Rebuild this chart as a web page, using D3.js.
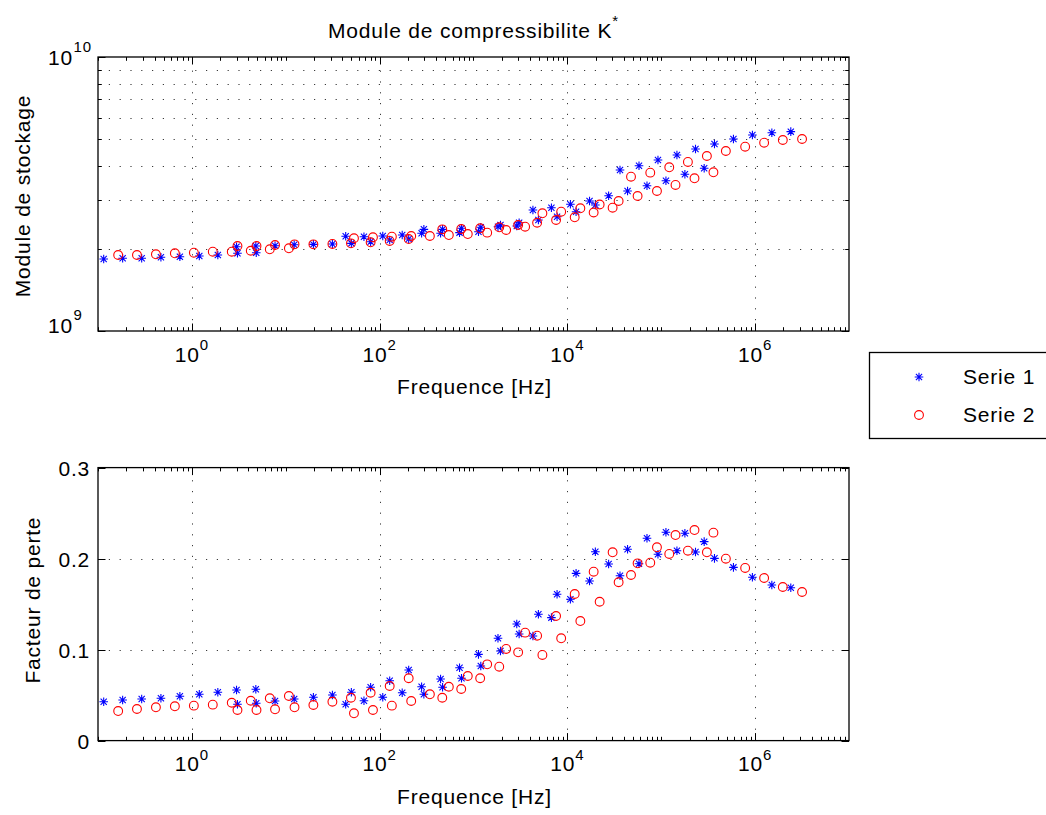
<!DOCTYPE html>
<html>
<head>
<meta charset="utf-8">
<script src="https://cdn.jsdelivr.net/npm/d3@7"></script>
<style>
  body { margin: 0; background: #fff; }
  svg text { font-family: "Liberation Sans", Arial, Helvetica, sans-serif; fill: #000; }
</style>
</head>
<body>
<div id="chart"></div>
<script>
// Serie 1 (blue stars)
const freq1 = [0.115, 0.183, 0.292, 0.468, 0.745, 1.20, 1.89, 2.99, 3.06, 4.80, 4.85, 7.69, 12.3, 19.7, 31.4,
  43.5, 50.0, 68.1, 80.2, 108, 128, 174, 204, 280, 296, 446, 468, 710, 745, 1130, 1196, 1823, 1938, 2890, 3063,
  4295, 4912, 6761, 7766, 10770, 12380, 17220, 19860, 27500, 36360, 43760, 57940, 70470, 92260, 112200, 146900,
  178600, 231700, 286600, 369000, 587500, 935400, 1507000, 2399000];
const storage1 = [1.832, 1.842, 1.842, 1.858, 1.867, 1.878, 1.894, 2.030, 1.921, 2.043, 1.930, 2.048, 2.065, 2.071,
  2.078, 2.216, 2.089, 2.209, 2.118, 2.222, 2.148, 2.240, 2.166, 2.274, 2.350, 2.274, 2.350, 2.285, 2.370, 2.303,
  2.390, 2.402, 2.437, 2.416, 2.484, 2.765, 2.542, 2.818, 2.613, 2.900, 2.725, 2.982, 2.884, 3.118, 3.870, 3.243,
  4.011, 3.390, 4.208, 3.536, 4.389, 3.732, 4.616, 3.924, 4.814, 5.020, 5.191, 5.294, 5.340].map(v => v * 1e9);
const loss1 = [0.0427, 0.0446, 0.0457, 0.0465, 0.0487, 0.0509, 0.0531, 0.0556, 0.0399, 0.0564, 0.0410, 0.0435,
  0.0457, 0.0476, 0.0501, 0.0399, 0.0531, 0.0438, 0.0586, 0.0476, 0.0658, 0.0526, 0.0776, 0.0592, 0.0509, 0.0677,
  0.0586, 0.0801, 0.0685, 0.0948, 0.0820, 0.1124, 0.0985, 0.1281, 0.1171, 0.1149, 0.1388, 0.1351, 0.1608, 0.1553,
  0.1838, 0.1754, 0.2076, 0.1941, 0.1812, 0.2102, 0.1944, 0.2223, 0.2047, 0.2289, 0.2087, 0.2278, 0.2073, 0.2186,
  0.2003, 0.1904, 0.1795, 0.1710, 0.1680];

// Serie 2 (red circles)
const freq2 = [0.164, 0.260, 0.414, 0.659, 1.05, 1.67, 2.66, 3.06, 4.24, 4.88, 6.76, 7.69, 10.8, 12.4, 19.7, 31.4,
  49.5, 53.3, 80.2, 84.9, 128, 135, 204, 217, 343, 465, 546, 740, 869, 1178, 1399, 1880, 2228, 2990, 3548, 4760,
  5420, 7580, 8590, 11970, 13750, 19050, 22070, 30340, 35150, 47630, 55980, 76380, 90020, 121700, 141900, 192300,
  226000, 306300, 359700, 487800, 783000, 1247000, 1972000, 3162000];
const storage2 = [1.894, 1.894, 1.905, 1.921, 1.931, 1.947, 1.947, 2.043, 1.963, 2.043, 1.987, 2.060, 2.004, 2.071,
  2.071, 2.078, 2.089, 2.179, 2.107, 2.198, 2.131, 2.209, 2.166, 2.222, 2.222, 2.350, 2.240, 2.356, 2.259, 2.370,
  2.285, 2.390, 2.337, 2.437, 2.402, 2.484, 2.689, 2.542, 2.725, 2.600, 2.804, 2.707, 2.895, 2.818, 2.982, 3.657,
  3.110, 3.783, 3.243, 3.958, 3.412, 4.139, 3.609, 4.352, 3.795, 4.539, 4.705, 4.866, 4.978, 5.020].map(v => v * 1e9);
const loss2 = [0.0325, 0.0347, 0.0366, 0.0377, 0.0384, 0.0395, 0.0416, 0.0336, 0.0438, 0.0336, 0.0465, 0.0344,
  0.0490, 0.0366, 0.0391, 0.0427, 0.0471, 0.0300, 0.0526, 0.0336, 0.0600, 0.0384, 0.0685, 0.0435, 0.0509, 0.0471,
  0.0592, 0.0567, 0.0710, 0.0685, 0.0838, 0.0812, 0.1007, 0.0970, 0.1186, 0.1153, 0.0941, 0.1369, 0.1124, 0.1611,
  0.1314, 0.1856, 0.1526, 0.2069, 0.1740, 0.1820, 0.1948, 0.1955, 0.2124, 0.2051, 0.2259, 0.2087, 0.2314, 0.2069,
  0.2285, 0.1999, 0.1897, 0.1787, 0.1688, 0.1633];

// ticks
const xTickExp = [0, 2, 4, 6];
const yTopTickExp = [9, 10];
const yBottomTicks = [0, 0.1, 0.2, 0.3];
const seriesNames = ["Serie 1", "Serie 2"];

const width = 1046, height = 815;
const left = 98, right = 849;

const svg = d3.select("#chart").append("svg")
  .attr("width", width)
  .attr("height", height);

const x = d3.scaleLog().domain([0.1, 1e7]).range([left, right]);
const yTop = d3.scaleLog().domain([1e9, 1e10]).range([331, 57]);
const yBot = d3.scaleLinear().domain([0, 0.3]).range([740.6, 467.6]);

const FS = 21, SUP = 15, LS = "0.8px";

// minor positions for the log x axis
const xMinor = [];
for (let k = -1; k <= 6; k++) {
  for (let m = 1; m <= 9; m++) {
    const v = m * Math.pow(10, k);
    if (v > 1e7) continue;
    if (m === 1 && xTickExp.includes(k)) continue;
    xMinor.push(v);
  }
}
const xMajor = xTickExp.map(e => Math.pow(10, e));

function starPath(r) {
  const d = r * 0.72;
  return `M${-r},0H${r}M0,${-r}V${r}M${-d},${-d}L${d},${d}M${-d},${d}L${d},${-d}`;
}

function drawPanel(y, yMajor, yMinor, y0, y1) {
  const g = svg.append("g");
  const dot = g.append("g")
    .attr("stroke", "#3a3a3a")
    .attr("stroke-width", 1)
    .attr("stroke-dasharray", "1.2,9.6");
  // grid
  dot.selectAll(".vg").data(xMajor).join("line")
    .attr("x1", d => Math.round(x(d)) + 0.5).attr("x2", d => Math.round(x(d)) + 0.5)
    .attr("y1", y0).attr("y2", y1);
  dot.selectAll(".hg").data(yMajor.concat(yMinor).filter(v => y(v) > y1 + 1 && y(v) < y0 - 1)).join("line")
    .attr("x1", left).attr("x2", right)
    .attr("y1", d => Math.round(y(d)) + 0.5).attr("y2", d => Math.round(y(d)) + 0.5);

  const ticks = g.append("g").attr("stroke", "#000").attr("stroke-width", 1);
  const tk = (vals, len) => {
    vals.forEach(v => {
      const px = Math.round(x(v)) + 0.5;
      ticks.append("line").attr("x1", px).attr("x2", px).attr("y1", y0).attr("y2", y0 - len);
      ticks.append("line").attr("x1", px).attr("x2", px).attr("y1", y1).attr("y2", y1 + len);
    });
  };
  tk(xMajor, 7.5);
  tk(xMinor, 3.8);
  const tky = (vals, len) => {
    vals.forEach(v => {
      const py = Math.round(y(v)) + 0.5;
      ticks.append("line").attr("x1", left).attr("x2", left + len).attr("y1", py).attr("y2", py);
      ticks.append("line").attr("x1", right).attr("x2", right - len).attr("y1", py).attr("y2", py);
    });
  };
  tky(yMajor, 7.5);
  tky(yMinor, 3.8);

  // box
  g.append("rect")
    .attr("x", left).attr("y", y1)
    .attr("width", right - left).attr("height", y0 - y1)
    .attr("fill", "none").attr("stroke", "#000").attr("stroke-width", 1.3);

  // x tick labels
  xTickExp.forEach(e => {
    const t = g.append("text")
      .attr("x", x(Math.pow(10, e)))
      .attr("y", y0 + 30.7)
      .attr("text-anchor", "middle")
      .attr("font-size", FS)
      .attr("letter-spacing", LS);
    t.append("tspan").text("10");
    t.append("tspan").attr("font-size", SUP).attr("dy", -11.7).text(e);
  });
  g.append("text")
    .attr("x", (left + right) / 2 + 1)
    .attr("y", y0 + 63.3)
    .attr("text-anchor", "middle")
    .attr("font-size", FS)
    .attr("letter-spacing", LS)
    .text("Frequence [Hz]");
  return g;
}

// ---- top panel
const topG = drawPanel(yTop, [1e9, 1e10], d3.range(2, 10).map(m => m * 1e9), 331, 57);
yTopTickExp.forEach(e => {
  const py = yTop(Math.pow(10, e));
  const off = e === 10 ? 8 : 2;
  topG.append("text")
    .attr("x", 73).attr("y", py + off)
    .attr("text-anchor", "end")
    .attr("font-size", FS).attr("letter-spacing", LS)
    .text("10");
  topG.append("text")
    .attr("x", 73.5).attr("y", py + off - 13)
    .attr("font-size", SUP).attr("letter-spacing", LS)
    .text(e);
});
topG.append("text")
  .attr("transform", `translate(30, ${(57 + 331) / 2 + 2}) rotate(-90)`)
  .attr("text-anchor", "middle")
  .attr("font-size", FS).attr("letter-spacing", LS)
  .text("Module de stockage");

const title = svg.append("text")
  .attr("x", (left + right) / 2)
  .attr("y", 38)
  .attr("text-anchor", "middle")
  .attr("font-size", FS).attr("letter-spacing", LS);
title.append("tspan").text("Module de compressibilite K");
title.append("tspan").attr("font-size", SUP).attr("dy", -12).text("*");

// ---- bottom panel
const botG = drawPanel(yBot, yBottomTicks, [], 740.6, 467.6);
yBottomTicks.forEach(v => {
  botG.append("text")
    .attr("x", 90).attr("y", yBot(v) + 8)
    .attr("text-anchor", "end")
    .attr("font-size", FS).attr("letter-spacing", LS)
    .text(v === 0 ? "0" : v.toFixed(1));
});
botG.append("text")
  .attr("transform", `translate(40, ${(467.6 + 740.6) / 2 - 4}) rotate(-90)`)
  .attr("text-anchor", "middle")
  .attr("font-size", FS).attr("letter-spacing", LS)
  .text("Facteur de perte");

// ---- markers
function drawSeries(freq, vals, y, kind) {
  const data = freq.map((f, i) => [f, vals[i]]);
  if (kind === "star") {
    svg.append("g").selectAll("path").data(data).join("path")
      .attr("d", starPath(4.3))
      .attr("transform", d => `translate(${x(d[0])},${y(d[1])})`)
      .attr("fill", "none").attr("stroke", "#0000ff").attr("stroke-width", 1.1);
  } else {
    svg.append("g").selectAll("circle").data(data).join("circle")
      .attr("cx", d => x(d[0])).attr("cy", d => y(d[1]))
      .attr("r", 4.4)
      .attr("fill", "none").attr("stroke", "#ff0000").attr("stroke-width", 1.1);
  }
}
drawSeries(freq1, storage1, yTop, "star");
drawSeries(freq2, storage2, yTop, "circle");
drawSeries(freq1, loss1, yBot, "star");
drawSeries(freq2, loss2, yBot, "circle");

// ---- legend
const leg = svg.append("g");
leg.append("rect")
  .attr("x", 869.5).attr("y", 352.5)
  .attr("width", 200).attr("height", 86)
  .attr("fill", "#fff").attr("stroke", "#000").attr("stroke-width", 1.3);
seriesNames.forEach((name, i) => {
  const cy = 377 + i * 38;
  if (i === 0) {
    leg.append("path").attr("d", starPath(4.3))
      .attr("transform", `translate(919,${cy})`)
      .attr("fill", "none").attr("stroke", "#0000ff").attr("stroke-width", 1.1);
  } else {
    leg.append("circle").attr("cx", 919).attr("cy", cy).attr("r", 4.4)
      .attr("fill", "none").attr("stroke", "#ff0000").attr("stroke-width", 1.1);
  }
  leg.append("text")
    .attr("x", 963).attr("y", cy + 7)
    .attr("font-size", FS).attr("letter-spacing", LS)
    .text(name);
});
</script>
</body>
</html>
